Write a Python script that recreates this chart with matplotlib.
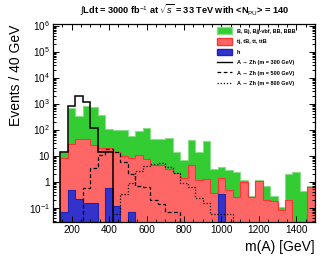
import numpy as np
import matplotlib
matplotlib.use("Agg")
import matplotlib.pyplot as plt
from matplotlib.patches import Patch
from matplotlib.lines import Line2D
from matplotlib.ticker import FixedLocator, MultipleLocator, FuncFormatter, NullFormatter

plt.rcParams["font.family"] = ["Liberation Sans", "DejaVu Sans"]
plt.rcParams["mathtext.fontset"] = "custom"
plt.rcParams["mathtext.rm"] = "Liberation Sans"
plt.rcParams["mathtext.it"] = "Liberation Sans:italic"
plt.rcParams["mathtext.bf"] = "Liberation Sans:bold"

# m(A) binning, 40 GeV bins
mass_edges = np.arange(100, 1540, 40)

# stacked background, read as the top of each layer (events / 40 GeV)
stack_all = [0, 13.7, 695, 340, 830, 760, 360, 110, 100, 95,
             55, 87, 120, 45, 42, 48, 13.7, 6.8, 41, 13.5,
             38, 3.0, 3.7, 2.8, 2.3, 1.16, 0.28, 1.15, 0.66, 0.27,
             0.105, 2.0, 2.3, 0.45, 0.7]
stack_top_h = [0, 8.0, 29, 42, 42, 26, 19.5, 19.5, 13.7, 9.6,
               8.0, 10.2, 7.1, 4.2, 4.4, 3.1, 2.2, 1.4, 4.5, 1.2,
               1.3, 0.35, 1.35, 0.48, 0.25, 1.0, 0.26, 1.1, 0.19, 0.18,
               0.08, 0.19, 0, 0, 0.64]
h_only = [0, 0.07, 0.47, 0.21, 0.15, 0.15, 0, 0.58, 0.12, 0,
          0.069, 0, 0, 0, 0, 0, 0, 0, 0, 0,
          0, 0, 0.33, 0, 0, 0, 0, 0, 0, 0,
          0, 0, 0, 0, 0]

# signals A -> Zh
sig_300 = [0, 13.7, 830, 2030, 1180, 117, 13.7, 13.7] + [0] * 27
sig_500 = [0, 0, 0, 0, 0.55, 3.3, 11, 18.5, 13.7, 5.6,
           2.0, 0.65, 0.6, 0.2, 0.14, 0.069, 0.069] + [0] * 18
sig_800 = [0, 0, 0, 0, 0, 0, 0, 0, 0.056, 0.33,
           0.9, 2.5, 4.0, 4.8, 5.2, 3.5, 2.1, 0.9, 0.62, 0.24,
           0.15, 0.056, 0.056, 0.056] + [0] * 11

labels = ["B, Bj, Bjj-vbf, BB, BBB", "tj, tB, tt, ttB", "h",
          "A \u2192 Zh (m = 300 GeV)", "A \u2192 Zh (m = 500 GeV)",
          "A \u2192 Zh (m = 800 GeV)"]
x_ticks = [200, 400, 600, 800, 1000, 1200, 1400]
y_ticks = [0.1, 1, 10, 1e2, 1e3, 1e4, 1e5, 1e6]

GREEN, RED, BLUE = "#33cc33", "#ff6666", "#3333cc"
FLOOR = 1e-4


def floor0(v):
    v = np.asarray(v, dtype=float)
    return np.where(v > 0, v, FLOOR)


fig = plt.figure(figsize=(3.32, 2.57), dpi=100)
ax = fig.add_axes([0.1596, 0.1362, 0.789, 0.7685])

for vals, fc, ec in [(stack_all, GREEN, "#88dd88"), (stack_top_h, RED, "#ff3333"),
                     (h_only, BLUE, "#2222aa")]:
    ax.stairs(floor0(vals), mass_edges, baseline=FLOOR, fill=True, color=fc, lw=0)
    ax.stairs(floor0(vals), mass_edges, baseline=FLOOR, color=ec, lw=0.8)

ax.stairs(floor0(sig_300), mass_edges, baseline=FLOOR, color="black", lw=1.1)
ax.stairs(floor0(sig_500), mass_edges, baseline=FLOOR, color="black", lw=0.9, ls=(0, (3, 2)))
ax.stairs(floor0(sig_800), mass_edges, baseline=FLOOR, color="black", lw=0.9, ls=(0, (1, 1.5)))

ax.set_yscale("log")
ax.set_xlim(100, 1500)
ax.set_ylim(0.028, 1.1e6)

ax.xaxis.set_major_locator(FixedLocator(x_ticks))
ax.xaxis.set_minor_locator(MultipleLocator(50))
ax.yaxis.set_major_locator(FixedLocator(y_ticks))
minor_y = [m * 10.0 ** e for e in range(-2, 6) for m in range(2, 10)]
ax.yaxis.set_minor_locator(FixedLocator([v for v in minor_y if 0.028 < v < 1.1e6]))
ax.yaxis.set_minor_formatter(NullFormatter())


def ylab(v, pos):
    if np.isclose(v, 1):
        return "1"
    if np.isclose(v, 10):
        return "10"
    return r"$10^{%d}$" % int(round(np.log10(v)))


ax.yaxis.set_major_formatter(FuncFormatter(ylab))
ax.tick_params(which="both", direction="in", top=True, right=True, labelsize=7.2, width=0.7)
ax.tick_params(which="major", length=4.5, pad=2.5)
ax.tick_params(which="minor", length=2.3)
for s in ax.spines.values():
    s.set_linewidth(0.9)

ax.set_xlabel("m(A) [GeV]", fontsize=10, loc="right", labelpad=3)
ax.set_ylabel("Events / 40 GeV", fontsize=10, loc="top", labelpad=4)

handles = [Patch(facecolor=GREEN, edgecolor="#88dd88"),
           Patch(facecolor=RED, edgecolor="#ff3333"),
           Patch(facecolor=BLUE, edgecolor="#2222aa"),
           Line2D([], [], color="black", lw=1.0),
           Line2D([], [], color="black", lw=0.9, ls=(0, (3, 2))),
           Line2D([], [], color="black", lw=0.9, ls=(0, (1, 1.5)))]
ax.legend(handles, labels, loc="upper left", bbox_to_anchor=(0.625, 0.985),
          frameon=False, prop={"size": 4, "weight": "bold"}, handlelength=2.8,
          handleheight=1.5, handletextpad=0.8, labelspacing=0.68, borderpad=0,
          borderaxespad=0)

fig.text(0.555, 0.96, r"$\int$Ldt = 3000 fb$^{-1}$ at $\sqrt{s}$ = 33 TeV with <N$_{\rm PU}$> = 140",
         ha="center", va="center", fontsize=6.6, fontweight="bold")

fig.savefig("out.png", dpi=100)
